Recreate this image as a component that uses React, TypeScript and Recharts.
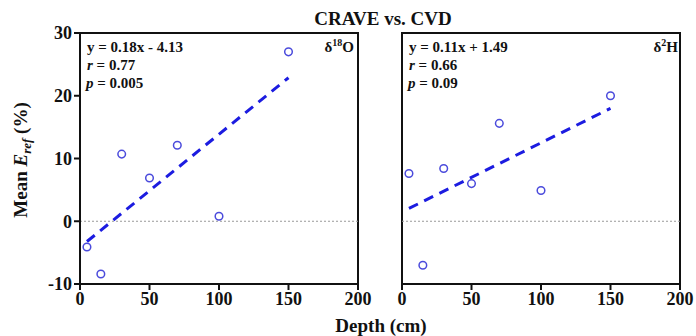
import { ReferenceArea, ReferenceLine, Scatter, ScatterChart, XAxis, YAxis } from "recharts";

const depthsO = [5, 15, 30, 50, 70, 100, 150];
const erefO = [-4.1, -8.4, 10.7, 6.9, 12.1, 0.8, 27];
const depthsH = [5, 15, 30, 50, 70, 100, 150];
const erefH = [7.6, -7.0, 8.4, 6.0, 15.6, 4.9, 20];

// fitted lines as printed on the chart
const fitO = { slope: 0.18, intercept: -4.13 };
const fitH = { slope: 0.11, intercept: 1.49 };
const fitRange = [5, 150];

const xTicks = [0, 50, 100, 150, 200];
const yTicks = [-10, 0, 10, 20, 30];

const FONT = "'Liberation Serif', 'Times New Roman', serif";
const BLUE_LINE = "#1c1ce0";
const BLUE_DOT = "#4b4bdc";

const toPoints = (xs: number[], ys: number[]) => xs.map((x, i) => ({ x, y: ys[i] }));

const tickStyle = { fontSize: 18, fontWeight: 700, fill: "#111", fontFamily: FONT };

const Ring = (props: any) => (
  <circle cx={props.cx} cy={props.cy} r={3.8} fill="none" stroke={BLUE_DOT} strokeWidth={1.5} />
);

function Panel({
  data,
  fit,
  showY,
  width,
  margin,
}: {
  data: { x: number; y: number }[];
  fit: { slope: number; intercept: number };
  showY: boolean;
  width: number;
  margin: { top: number; right: number; left: number; bottom: number };
}) {
  const seg = fitRange.map((x) => ({ x, y: fit.slope * x + fit.intercept }));
  return (
    <ScatterChart width={width} height={336} margin={margin}>
      <XAxis
        type="number"
        dataKey="x"
        domain={[0, 200]}
        ticks={xTicks}
        height={30}
        axisLine={{ stroke: "#111", strokeWidth: 2 }}
        tickLine={{ stroke: "#111", strokeWidth: 2 }}
        tickSize={6}
        tick={tickStyle}
        interval={0}
      />
      <YAxis
        type="number"
        dataKey="y"
        domain={[-10, 30]}
        ticks={yTicks}
        width={45}
        hide={!showY}
        axisLine={{ stroke: "#111", strokeWidth: 2 }}
        tickLine={{ stroke: "#111", strokeWidth: 2 }}
        tickSize={6}
        tick={tickStyle}
        interval={0}
      />
      <ReferenceLine y={0} stroke="#999" strokeDasharray="2 2" strokeWidth={1} />
      <ReferenceArea x1={0} x2={200} y1={-10} y2={30} fill="none" stroke="#111" strokeWidth={2} />
      <ReferenceLine
        segment={seg}
        stroke={BLUE_LINE}
        strokeWidth={3}
        strokeDasharray="10 7"
      />
      <Scatter data={data} shape={Ring} isAnimationActive={false} />
    </ScatterChart>
  );
}

export default function App() {
  const bold = { fontFamily: FONT, fontWeight: 700, fill: "#111" } as const;
  return (
    <div style={{ position: "fixed", top: 0, left: 0, width: 696, height: 336, background: "#fff" }}>
      <div style={{ position: "absolute", left: 0, top: 0 }}>
        <Panel
          data={toPoints(depthsO, erefO)}
          fit={fitO}
          showY
          width={380}
          margin={{ top: 33, right: 22, left: 35, bottom: 22 }}
        />
      </div>
      <div style={{ position: "absolute", left: 380, top: 0 }}>
        <Panel
          data={toPoints(depthsH, erefH)}
          fit={fitH}
          showY={false}
          width={316}
          margin={{ top: 33, right: 16, left: 22, bottom: 22 }}
        />
      </div>
      <svg
        width={696}
        height={336}
        style={{ position: "absolute", left: 0, top: 0, pointerEvents: "none" }}
      >
        <text x={383} y={25} textAnchor="middle" fontSize={19} {...bold}>
          CRAVE vs. CVD
        </text>
        <text x={381} y={332} textAnchor="middle" fontSize={19} {...bold}>
          Depth (cm)
        </text>
        <text transform="translate(27,160) rotate(-90)" textAnchor="middle" fontSize={19} {...bold}>
          Mean <tspan fontStyle="italic">E</tspan>
          <tspan fontStyle="italic" fontSize={13} dy={4}>ref</tspan>
          <tspan dy={-4}> (%)</tspan>
        </text>

        <g fontSize={15} {...bold}>
          <text x={87} y={52}>y = 0.18x - 4.13</text>
          <text x={87} y={70}>
            <tspan fontStyle="italic">r</tspan> = 0.77
          </text>
          <text x={86} y={88}>
            <tspan fontStyle="italic">p</tspan> = 0.005
          </text>
          <text x={354} y={52} textAnchor="end">
            δ<tspan fontSize={10} dy={-6}>18</tspan>
            <tspan dy={6}>O</tspan>
          </text>

          <text x={409} y={52}>y = 0.11x + 1.49</text>
          <text x={409} y={70}>
            <tspan fontStyle="italic">r</tspan> = 0.66
          </text>
          <text x={408} y={88}>
            <tspan fontStyle="italic">p</tspan> = 0.09
          </text>
          <text x={678} y={52} textAnchor="end">
            δ<tspan fontSize={10} dy={-6}>2</tspan>
            <tspan dy={6}>H</tspan>
          </text>
        </g>
      </svg>
    </div>
  );
}
